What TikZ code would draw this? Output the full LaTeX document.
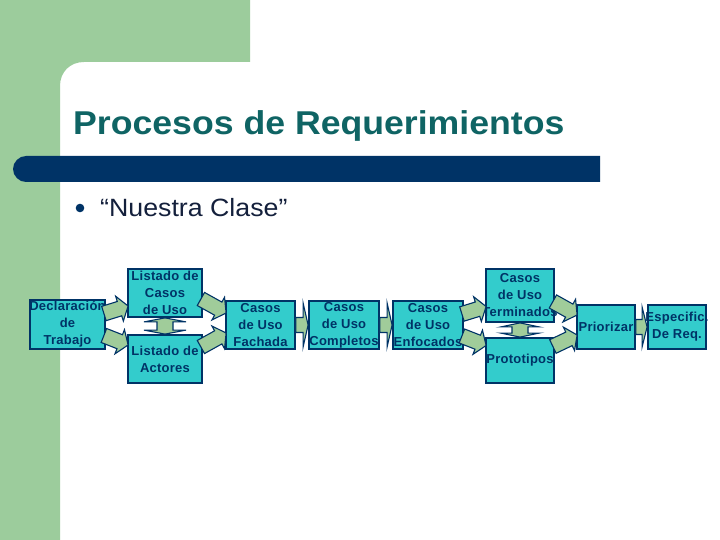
\documentclass[tikz,border=0pt]{standalone}
\usepackage{fontspec}
\setmainfont{Liberation Sans}
\newfontfamily\titlefont[FakeStretch=1.08]{Liberation Sans}
\newfontfamily\bulletfont[FakeStretch=1.07]{Liberation Sans}
\newfontfamily\boxfont[LetterSpace=2]{Liberation Sans}
\usetikzlibrary{calc}
\definecolor{bggreen}{HTML}{9CCC9C}
\definecolor{navy}{HTML}{003366}
\definecolor{boxcyan}{HTML}{33CCCC}
\definecolor{arrgreen}{HTML}{A0CC9A}
\definecolor{titleteal}{RGB}{15,100,100}
\definecolor{bultext}{RGB}{20,32,60}
\newcommand\ow[1]{\makebox[40pt][c]{#1}}
\tikzset{
  procbox/.style={draw=navy, line width=1.8pt, fill=boxcyan, inner sep=0pt,
    align=center, text=navy, font=\boxfont\bfseries\fontsize{13}{17}\selectfont},
  arrowbody/.style={fill=arrgreen, draw=navy, line width=1.1pt, line join=miter}
}
\newcommand\blockarr[5]{%
  \coordinate (ba-s) at (#1);
  \coordinate (ba-e) at (#2);
  \coordinate (ba-m) at ($(ba-e)!#5!(ba-s)$);
  \filldraw[arrowbody] ($(ba-s)!#3!90:(ba-e)$) -- ($(ba-m)!#3!90:(ba-e)$)
    -- ($(ba-m)!#4!90:(ba-e)$) -- (ba-e) -- ($(ba-m)!#4!-90:(ba-e)$)
    -- ($(ba-m)!#3!-90:(ba-e)$) -- ($(ba-s)!#3!-90:(ba-e)$) -- cycle;
}
\newcommand\dblarr[5]{%
  \coordinate (da-s) at (#1);
  \coordinate (da-e) at (#2);
  \coordinate (da-a) at ($(da-s)!#5!(da-e)$);
  \coordinate (da-b) at ($(da-e)!#5!(da-s)$);
  \filldraw[arrowbody] (da-s) -- ($(da-a)!#4!90:(da-e)$) -- ($(da-a)!#3!90:(da-e)$)
    -- ($(da-b)!#3!90:(da-e)$) -- ($(da-b)!#4!90:(da-e)$) -- (da-e)
    -- ($(da-b)!#4!-90:(da-e)$) -- ($(da-b)!#3!-90:(da-e)$)
    -- ($(da-a)!#3!-90:(da-e)$) -- ($(da-a)!#4!-90:(da-e)$) -- cycle;
}
\begin{document}
\begin{tikzpicture}[x=1pt,y=-1pt]
\useasboundingbox (0,0) rectangle (720,540);
\fill[white] (0,0) rectangle (720,540);
% background green L shape with rounded inner corner
\fill[bggreen] (0,0) -- (250,0) -- (250,62) -- (84,62)
  .. controls (70,62) and (60,72) .. (60,86) -- (60,540) -- (0,540) -- cycle;
% dark blue bar
\fill[navy] (600,156) -- (600,182) -- (26,182)
  .. controls (19,182) and (13,176) .. (13,169)
  .. controls (13,162) and (19,156) .. (26,156) -- cycle;
% title and bullet
\node[anchor=base west, inner sep=0pt, text=titleteal,
  font=\titlefont\bfseries\fontsize{33}{38}\selectfont] (title) at (73,135) {Procesos de Requerimientos};
\fill[navy] (80,208) circle (4.3);
\node[anchor=base west, inner sep=0pt, text=bultext,
  font=\bulletfont\fontsize{25}{30}\selectfont] (bul) at (100,216) {“Nuestra Clase”};
% boxes
\node[procbox, minimum width=75, minimum height=49] (decl) at (67.5,324.5) {\ow{Declaración}\\de\\Trabajo};
\node[procbox, minimum width=74, minimum height=48] (lcu) at (165,293) {\ow{Listado de}\\Casos\\de Uso};
\node[procbox, minimum width=74, minimum height=48] (lact) at (165,359) {\ow{Listado de}\\Actores};
\node[procbox, minimum width=69, minimum height=48] (fach) at (260.5,325) {Casos\\de Uso\\Fachada};
\node[procbox, minimum width=70, minimum height=48] (comp) at (344,325) {Casos\\de Uso\\\ow{Completos}};
\node[procbox, minimum width=70, minimum height=48] (enf) at (428,325) {Casos\\de Uso\\\ow{Enfocados}};
\node[procbox, minimum width=68, minimum height=53] (term) at (520,295.5) {Casos\\de Uso\\\ow{Terminados}};
\node[procbox, minimum width=68, minimum height=45] (proto) at (520,360.5) {\ow{Prototipos}};
\node[procbox, minimum width=58, minimum height=44] (prior) at (606,327) {\ow{Priorizar}};
\node[procbox, minimum width=58, minimum height=44] (esp) at (677,327) {\ow{Especific.}\\De Req.};
% diagonal arrows
\blockarr{$(decl.east)+(-2,-11)$}{$(lcu.west)+(1,13)$}{7.5pt}{13pt}{9pt}
\blockarr{$(decl.east)+(-2,11)$}{$(lact.west)+(1,-14)$}{7.5pt}{13pt}{9pt}
\blockarr{$(lcu.east)+(-2,6)$}{$(fach.west)+(1,-12)$}{7.5pt}{13pt}{9pt}
\blockarr{$(lact.east)+(-2,-12)$}{$(fach.west)+(1,8)$}{7.5pt}{13pt}{9pt}
\blockarr{$(enf.east)+(-2,-11)$}{$(term.west)+(1,11)$}{7.5pt}{13pt}{9pt}
\blockarr{$(enf.east)+(-2,11)$}{$(proto.west)+(1,-15)$}{7.5pt}{13pt}{9pt}
\blockarr{$(term.east)+(-2,6)$}{$(prior.west)+(1,-12)$}{7.5pt}{13pt}{9pt}
\blockarr{$(proto.east)+(-2,-14)$}{$(prior.west)+(1,8)$}{7.5pt}{13pt}{9pt}
% horizontal short arrows
\blockarr{fach.east}{comp.west}{7.5pt}{22pt}{5pt}
\blockarr{comp.east}{enf.west}{7.5pt}{22pt}{5pt}
\blockarr{prior.east}{esp.west}{7.5pt}{20pt}{5pt}
% vertical double arrows
\dblarr{lcu.south}{lact.north}{8pt}{21pt}{4pt}
\dblarr{term.south}{proto.north}{8pt}{19pt}{4pt}
\end{tikzpicture}
\end{document}
